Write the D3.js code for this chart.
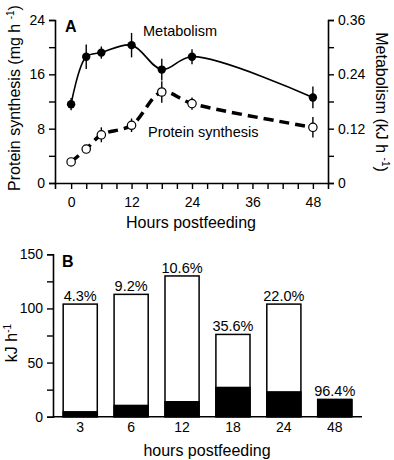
<!DOCTYPE html>
<html>
<head>
<meta charset="utf-8">
<script src="https://cdn.jsdelivr.net/npm/d3@7.9.0/dist/d3.min.js"></script>
<style>
  body { margin: 0; background: #fff; }
  svg text { font-family: "Liberation Sans", Arial, sans-serif; fill: #000; }
</style>
</head>
<body>
<svg id="chart" width="394" height="460"></svg>
<script>
// === Panel A data ===
const hours = [0, 3, 6, 12, 18, 24, 48];
const metabolism = [11.6, 18.6, 19.2, 20.3, 16.7, 18.6, 12.6];   // in left-axis units (mg h-1 scale)
const metabolismErr = [0.9, 1.8, 0.9, 1.8, 1.6, 1.1, 1.6];
const protein = [3.1, 5.0, 7.1, 8.5, 13.4, 11.7, 8.2];
const proteinErr = [0.4, 0.4, 1.1, 1.0, 1.6, 0.9, 1.5];
const leftTicks = [0, 8, 16, 24];
const rightTicks = [0, 0.12, 0.24, 0.36];
const xTicksA = [0, 12, 24, 36, 48];

// === Panel B data ===
const barHours = ['3', '6', '12', '18', '24', '48'];
const barTotal = [104, 113, 130, 76, 104, 16];
const barBlack = [4.5, 10.4, 13.8, 27, 22.9, 15.4];
const barPct = ['4.3%', '9.2%', '10.6%', '35.6%', '22.0%', '96.4%'];
const yTicksB = [0, 50, 100, 150];

const svg = d3.select('#chart');

// ---------- Panel A ----------
const xA = d3.scaleLinear().domain([-3.2, 51]).range([55, 328]);
const yA = d3.scaleLinear().domain([0, 24]).range([183, 20]);
const yR = d3.scaleLinear().domain([0, 0.36]).range([183, 20]);

const gA = svg.append('g');

const leftAxis = d3.axisLeft(yA).tickValues(d3.range(0, 25, 4)).tickSize(6).tickPadding(4)
  .tickFormat(d => leftTicks.includes(d) ? d : '');
gA.append('g').attr('transform', 'translate(55,0)').call(leftAxis);

const rightAxis = d3.axisRight(yR).tickValues(d3.range(0, 0.361, 0.06)).tickSize(6).tickPadding(4)
  .tickFormat(d => rightTicks.some(t => Math.abs(t - d) < 1e-6) ? (d === 0 ? '0' : d3.format('.2f')(d)) : '');
gA.append('g').attr('transform', 'translate(328,0)').call(rightAxis);

const bottomA = d3.axisBottom(xA).tickValues(d3.range(0, 49, 3)).tickSize(6).tickPadding(8)
  .tickFormat(d => xTicksA.includes(d) ? d : '');
gA.append('g').attr('transform', 'translate(0,183)').call(bottomA);

gA.selectAll('.domain').attr('stroke-width', 1.6);
gA.selectAll('.tick line').attr('stroke-width', 1.4);
gA.selectAll('.tick text').attr('font-size', 14);

// metabolism curve
const lineGen = d3.line().x(d => xA(d[0])).y(d => yA(d[1])).curve(d3.curveCatmullRom.alpha(0.5));
gA.append('path')
  .attr('d', lineGen(hours.map((h, i) => [h, metabolism[i]])))
  .attr('fill', 'none').attr('stroke', '#000').attr('stroke-width', 1.6);

gA.append('path')
  .attr('d', lineGen(hours.map((h, i) => [h, protein[i]])))
  .attr('fill', 'none').attr('stroke', '#000').attr('stroke-width', 3.5)
  .attr('stroke-dasharray', '10,6');

// error bars
function errBars(vals, errs) {
  hours.forEach((h, i) => {
    gA.append('line')
      .attr('x1', xA(h)).attr('x2', xA(h))
      .attr('y1', yA(vals[i] - errs[i])).attr('y2', yA(vals[i] + errs[i]))
      .attr('stroke', '#000').attr('stroke-width', 1.4);
  });
}
errBars(metabolism, metabolismErr);
errBars(protein, proteinErr);

hours.forEach((h, i) => {
  gA.append('circle').attr('cx', xA(h)).attr('cy', yA(metabolism[i])).attr('r', 4.2)
    .attr('fill', '#000');
  gA.append('circle').attr('cx', xA(h)).attr('cy', yA(protein[i])).attr('r', 4.2)
    .attr('fill', '#fff').attr('stroke', '#000').attr('stroke-width', 1.2);
});

gA.append('text').attr('x', 65).attr('y', 32).attr('font-size', 16).attr('font-weight', 'bold').text('A');
gA.append('text').attr('x', 143).attr('y', 36).attr('font-size', 14.5).text('Metabolism');
gA.append('text').attr('x', 148).attr('y', 137).attr('font-size', 14.5).text('Protein synthesis');

gA.append('text').attr('x', 191).attr('y', 228).attr('font-size', 16).attr('text-anchor', 'middle')
  .text('Hours postfeeding');

const ylab = gA.append('text').attr('transform', 'translate(20,98) rotate(-90)')
  .attr('font-size', 16).attr('text-anchor', 'middle');
ylab.append('tspan').text('Protein synthesis (mg h ');
ylab.append('tspan').attr('font-size', 10).attr('dy', -6).text('-1');
ylab.append('tspan').attr('dy', 6).text(')');

const rlab = gA.append('text').attr('transform', 'translate(376,102) rotate(90)')
  .attr('font-size', 16).attr('text-anchor', 'middle');
rlab.append('tspan').text('Metabolism (kJ h ');
rlab.append('tspan').attr('font-size', 10).attr('dy', -6).text('-1');
rlab.append('tspan').attr('dy', 6).text(')');

// ---------- Panel B ----------
const xB = d3.scaleBand().domain(barHours).range([53, 362]).paddingInner(0.33).paddingOuter(0.2);
const yB = d3.scaleLinear().domain([0, 150]).range([416.7, 254.3]);

const gB = svg.append('g');

const leftB = d3.axisLeft(yB).tickValues(d3.range(0, 151, 25)).tickSize(6).tickPadding(4)
  .tickFormat(d => yTicksB.includes(d) ? d : '');
gB.append('g').attr('transform', 'translate(53,0)').call(leftB);

const bottomB = d3.axisBottom(xB).tickSize(0).tickPadding(5);
gB.append('g').attr('transform', 'translate(0,416.7)').call(bottomB)
  .select('.domain').attr('d', 'M53,0H362');

gB.selectAll('.domain').attr('stroke-width', 1.6);
gB.selectAll('.tick line').attr('stroke-width', 1.4);
gB.selectAll('.tick text').attr('font-size', 14);

barHours.forEach((h, i) => {
  gB.append('rect').attr('x', xB(h)).attr('width', xB.bandwidth())
    .attr('y', yB(barTotal[i])).attr('height', yB(0) - yB(barTotal[i]))
    .attr('fill', '#fff').attr('stroke', '#000').attr('stroke-width', 1.5);
  gB.append('rect').attr('x', xB(h)).attr('width', xB.bandwidth())
    .attr('y', yB(barBlack[i])).attr('height', yB(0) - yB(barBlack[i]))
    .attr('fill', '#000').attr('stroke', '#000').attr('stroke-width', 1.5);
  gB.append('text').attr('x', xB(h) + xB.bandwidth() / 2).attr('y', yB(barTotal[i]) - 3)
    .attr('text-anchor', 'middle').attr('font-size', 14.5).text(barPct[i]);
});

gB.append('text').attr('x', 62).attr('y', 267).attr('font-size', 16).attr('font-weight', 'bold').text('B');

gB.append('text').attr('x', 207).attr('y', 456).attr('font-size', 16).attr('text-anchor', 'middle')
  .text('hours postfeeding');

const blab = gB.append('text').attr('transform', 'translate(17,343) rotate(-90)')
  .attr('font-size', 16).attr('text-anchor', 'middle');
blab.append('tspan').text('kJ h');
blab.append('tspan').attr('font-size', 10).attr('dy', -6).text('-1');
</script>
</body>
</html>
